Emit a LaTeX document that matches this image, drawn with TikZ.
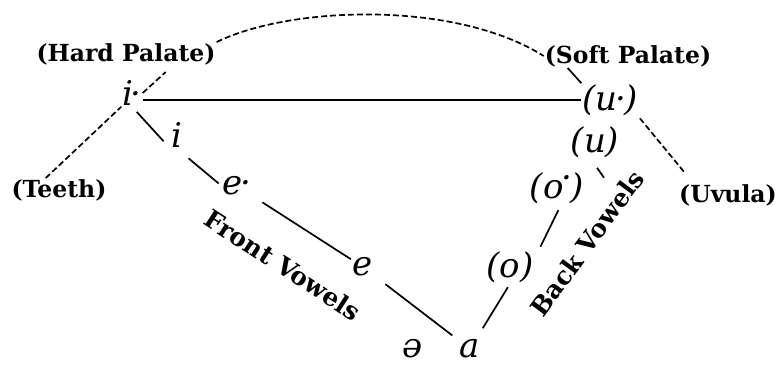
\documentclass[tikz,border=0pt]{standalone}
\usepackage{fontspec}
\newfontfamily\labfont{DejaVu Serif}
\newfontfamily\vowfont{DejaVu Serif}
\begin{document}
\begin{tikzpicture}[x=1pt,y=-1pt,
  lab/.style={font=\labfont\fontsize{23.5}{26}\selectfont\bfseries, inner sep=1pt},
  rlab/.style={font=\labfont\fontsize{25}{28}\selectfont\bfseries, inner sep=1pt},
  vow/.style={font=\vowfont\fontsize{34}{38}\selectfont\itshape, inner sep=1pt},
  sline/.style={line width=1.7pt},
  hline/.style={line width=2.2pt},
  dline/.style={line width=1.7pt, dash pattern=on 6pt off 3pt}]
\useasboundingbox (0,0) rectangle (778,365);
% labels
\node[lab] (hard) at (126,54) {(Hard Palate)};
\node[lab] (soft) at (628,56) {(Soft Palate)};
\node[lab] (teeth) at (59,190) {(Teeth)};
\node[lab] (uvula) at (728,195) {(Uvula)};
% vowels
\node[vow] (i1) at (132,93) {i\kern-.08em·};
\node[vow] (i2) at (177,135) {i};
\node[vow] (e1) at (237,186) {e\kern-.08em·};
\node[vow] (e2) at (363,267) {e};
\node[vow] (a) at (470,349) {a};
\node[vow] (schwa) at (413,349) {ə};
\node[vow] (o) at (510,267) {(o)};
\node[vow] (o1) at (557,188) {(o\kern-.05em\raisebox{.25em}{·}\kern-.05em)};
\node[vow] (u) at (595,142) {(u)};
\node[vow] (uu) at (610,100) {(u\kern-.08em·\kern-.05em)};
\node[rlab, rotate=-33] (front) at (283,265) {Front Vowels};
\node[rlab, rotate=53.6] (back) at (587,243) {Back Vowels};
% palate arc and dashed lines
\draw[dline] (hard.north east) .. controls (290,6) and (455,0) .. (soft.west);
\draw[dline] (i1.east) -- ++(23,-21);
\draw[dline] (teeth.138) -- (i1.south west);
\draw[dline, shorten <=2pt] (uu.south east) -- ([shift={(7,-10)}]uvula.north west);
% horizontal line
\draw[hline] (i1.east |- uu.west) -- (uu.west);
\draw[sline] ([xshift=24pt]soft.south west) -- (uu.north west);
% front vowels line
\draw[sline, shorten <=7pt, shorten >=10pt] (i1.south) -- (i2.south west);
\draw[sline, shorten <=15pt, shorten >=4pt] (i2.south) -- (e1.west);
\draw[sline, shorten <=12pt, shorten >=1pt] (e1) -- (e2);
\draw[sline, shorten <=14pt, shorten >=8pt] (e2) -- (a);
% back vowels line
\draw[sline, shorten <=12pt, shorten >=4pt] (a) -- (o.south);
\draw[sline, shorten <=4pt, shorten >=6pt] ([xshift=4pt]o.north east) -- ([xshift=4pt]o1.south);
\draw[sline] ([shift={(2,9)}]u.south) -- ++(7,10);
\end{tikzpicture}
\end{document}
